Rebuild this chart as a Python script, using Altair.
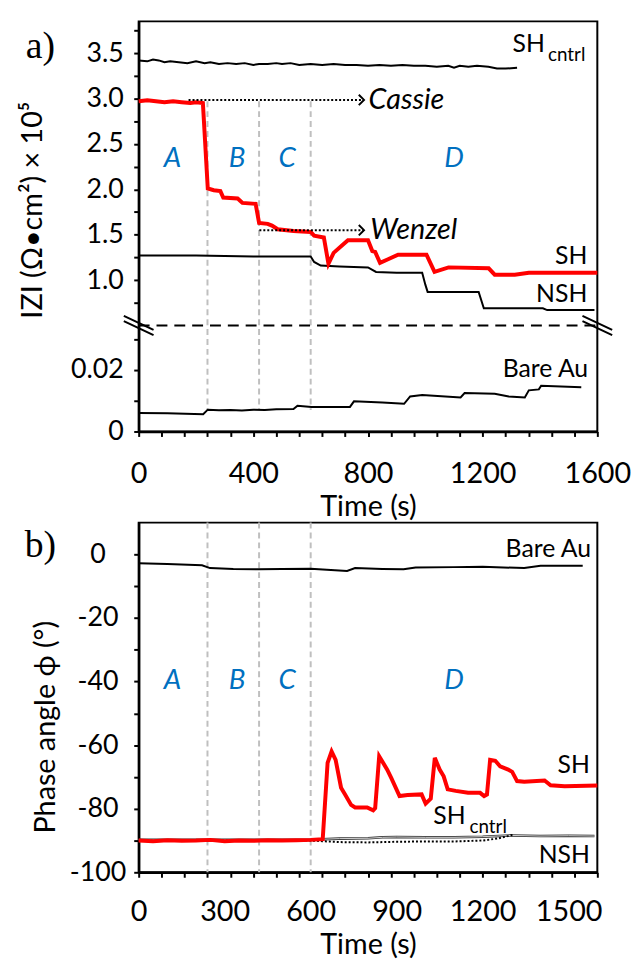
import altair as alt
import pandas as pd

FONT = "Lato"
BLUE = "#0070C0"
RED = "#FF0000"
GRAY = "#BFBFBF"

# ---------------- Panel a data (|Z|, x10^5) ----------------
shc_a_t = [0, 30, 50, 70, 90, 110, 140, 170, 200, 230, 250, 280, 310, 340, 370, 400, 420, 450, 480, 500,
           530, 560, 600, 640, 680, 720, 760, 800, 840, 880, 920, 960, 1000, 1040, 1080, 1100, 1120, 1150,
           1180, 1220, 1250, 1280, 1320]
shc_a_v = [3.42, 3.41, 3.43, 3.42, 3.40, 3.41, 3.40, 3.39, 3.41, 3.39, 3.40, 3.38, 3.39, 3.38, 3.39, 3.37,
           3.38, 3.38, 3.39, 3.38, 3.39, 3.37, 3.38, 3.37, 3.38, 3.37, 3.37, 3.36, 3.37, 3.36, 3.37, 3.36,
           3.36, 3.35, 3.36, 3.34, 3.36, 3.35, 3.36, 3.35, 3.33, 3.33, 3.34]

sh_a_t = [0, 30, 60, 90, 120, 150, 180, 200, 224, 241, 262, 285, 295, 345, 352, 362, 408, 420, 450, 465,
          485, 540, 600, 612, 646, 662, 680, 709, 730, 800, 815, 825, 842, 870, 905, 1004, 1032, 1081,
          1221, 1242, 1312, 1361, 1600]
sh_a_v = [2.97, 2.98, 2.97, 2.96, 2.97, 2.96, 2.95, 2.96, 2.95, 2.01, 1.99, 1.98, 1.91, 1.90, 1.88, 1.85,
          1.84, 1.63, 1.62, 1.60, 1.56, 1.54, 1.53, 1.49, 1.47, 1.18, 1.30, 1.38, 1.44, 1.44, 1.32, 1.31,
          1.19, 1.23, 1.28, 1.28, 1.09, 1.14, 1.13, 1.06, 1.06, 1.08, 1.08]

nsh_a_t = [0, 200, 400, 600, 612, 635, 700, 800, 828, 900, 989, 1000, 1008, 1100, 1186, 1204, 1300, 1410,
           1425, 1590]
nsh_a_v = [1.27, 1.27, 1.26, 1.26, 1.20, 1.16, 1.15, 1.14, 1.09, 1.08, 1.08, 0.95, 0.87, 0.87, 0.87, 0.69,
           0.69, 0.69, 0.67, 0.67]

au_a_t = [0, 100, 225, 241, 280, 320, 360, 400, 440, 480, 540, 554, 603, 737, 751, 850, 926, 947, 989,
          1123, 1137, 1242, 1291, 1347, 1361, 1396, 1404, 1544]
au_a_v = [0.0060, 0.0059, 0.0056, 0.0071, 0.0069, 0.0070, 0.0068, 0.0071, 0.0070, 0.0072, 0.0073, 0.0084,
          0.0080, 0.0080, 0.0098, 0.0094, 0.0090, 0.0114, 0.0119, 0.0111, 0.0125, 0.0123, 0.0114, 0.0111,
          0.0134, 0.0137, 0.0149, 0.0144]

# ---------------- Panel b data (phase angle, deg) ----------------
sh_b_t = [0, 50, 100, 150, 200, 250, 300, 350, 400, 450, 500, 550, 600, 642, 659, 673, 687, 706, 720, 741,
          755, 797, 818, 825, 839, 867, 881, 910, 938, 987, 1001, 1019, 1033, 1050, 1064, 1078, 1106, 1149,
          1191, 1205, 1215, 1226, 1244, 1261, 1289, 1303, 1320, 1345, 1416, 1437, 1486, 1600]
sh_b_v = [-90.0, -90.2, -89.9, -90.1, -90.0, -89.8, -90.2, -90.0, -90.1, -89.9, -90.0, -89.9, -89.8, -89.6,
          -65.6, -62.0, -64.6, -73.4, -75.5, -78.8, -79.6, -79.6, -80.5, -79.8, -63.5, -67.7, -70.3, -76.0,
          -75.7, -75.5, -78.4, -76.8, -64.0, -67.7, -69.8, -73.9, -74.4, -75.0, -75.0, -76.0, -75.5, -64.6,
          -64.9, -66.7, -67.7, -68.4, -71.3, -71.5, -71.1, -72.6, -72.9, -72.7]

au_b_t = [0, 100, 221, 249, 330, 418, 500, 600, 727, 755, 850, 924, 966, 1100, 1200, 1345, 1402, 1549]
au_b_v = [-2.8, -3.0, -3.4, -4.3, -4.6, -4.7, -4.6, -4.5, -5.2, -4.3, -4.6, -4.7, -4.1, -4.0, -3.9, -4.3,
          -3.6, -3.6]

shc_b_t = [0, 100, 200, 300, 400, 500, 600, 640, 700, 800, 900, 1000, 1100, 1200, 1250, 1280, 1300, 1310]
shc_b_v = [-90.0, -90.1, -89.9, -90.0, -90.1, -90.0, -90.0, -90.2, -90.5, -90.6, -90.4, -90.3, -90.3,
           -90.0, -89.4, -88.8, -88.3, -88.6]

nsh_b_t = [0, 300, 600, 640, 700, 800, 850, 900, 1000, 1100, 1200, 1300, 1400, 1500, 1590]
nsh_b_v = [-89.8, -89.8, -89.8, -89.6, -89.4, -89.3, -89.0, -88.9, -89.0, -89.0, -88.8, -88.4, -88.6,
           -88.5, -88.6]

# stage boundaries (s) and stage labels
stage_t = [240, 420, 600]
stage_labels = ["A", "B", "C", "D"]
stage_label_t = [118, 343, 518, 1100]
stage_label_a_v = 2.33
stage_label_b_v = -40

# ---------------- geometry ----------------
W = 463
HA = 414
HB = 353
BREAK_PX = 307
BREAK_V = 0.2  # any value inside the axis gap

xa_scale = alt.Scale(domain=[0, 1600], nice=False, zero=False)
ya_scale = alt.Scale(domain=[0, 0.0345, 0.5, 3.85], range=[HA, BREAK_PX, BREAK_PX, 0], nice=False, zero=False)
xb_scale = alt.Scale(domain=[0, 1600], nice=False, zero=False)
yb_scale = alt.Scale(domain=[-100, 10], nice=False, zero=False)

xa_axis = alt.Axis(values=list(range(0, 1601, 80)),
                   labelExpr="datum.value % 400 == 0 ? '' + datum.value : ''",
                   title="Time (s)", labelFontSize=29, labelBaseline="alphabetic", labelPadding=46,
                   titleFontSize=29, titleBaseline="alphabetic", titleY=85)
ya_vals = [0, 0.01, 0.02, 0.03, 0.75, 1.0, 1.25, 1.5, 1.75, 2.0, 2.25, 2.5, 2.75, 3.0, 3.25, 3.5, 3.75]
ya_axis = alt.Axis(values=ya_vals,
                   labelExpr="datum.value == 0 ? '0' : datum.value == 0.02 ? '0.02' : "
                             "(datum.value >= 1 && (datum.value * 2) % 1 == 0) ? format(datum.value, '.1f') : ''",
                   title="IZI (Ω•cm²) × 10⁵", labelFontSize=27, labelPadding=10.5, labelAlign="right",
                   titleFontSize=29, titleAngle=270, titleAlign="center", titleBaseline="alphabetic",
                   titleX=-98, titleY=190)

xb_vals = sorted(set(list(range(0, 1601, 80)) + list(range(0, 1501, 300))))
xb_axis = alt.Axis(values=xb_vals,
                   labelExpr="datum.value % 300 == 0 ? '' + datum.value : ''",
                   tickOpacity={"condition": {"test": "datum.value % 80 == 0", "value": 1}, "value": 0},
                   title="Time (s)", labelFontSize=29, labelBaseline="alphabetic", labelPadding=44,
                   titleFontSize=29, titleBaseline="alphabetic", titleY=82)
yb_axis = alt.Axis(values=list(range(-100, 1, 10)),
                   labelExpr="datum.value % 20 == 0 ? '' + datum.value : ''",
                   title="Phase angle ϕ (°)", labelFontSize=27, labelPadding=36.5, labelAlign="center",
                   titleFontSize=29, titleAngle=270, titleAlign="center", titleBaseline="alphabetic",
                   titleX=-85, titleY=206)


def XA(f="t"):
    return alt.X(f"{f}:Q", scale=xa_scale, axis=xa_axis)


def YA(f="v"):
    return alt.Y(f"{f}:Q", scale=ya_scale, axis=ya_axis)


def XB(f="t"):
    return alt.X(f"{f}:Q", scale=xb_scale, axis=xb_axis)


def YB(f="v"):
    return alt.Y(f"{f}:Q", scale=yb_scale, axis=yb_axis)


def df(t, v):
    return pd.DataFrame({"t": t, "v": v})


def line(t, v, X, Y, **kw):
    return alt.Chart(df(t, v)).mark_line(**kw).encode(x=X(), y=Y())


def label(texts, ts, vs, X, Y, color="black", **kw):
    d = pd.DataFrame({"t": ts, "v": vs, "label": texts})
    return alt.Chart(d).mark_text(font=FONT, color=color, baseline="middle", **kw).encode(
        x=X(), y=Y(), text="label:N")


# ---------------- Panel a ----------------
vlines_a = alt.Chart(pd.DataFrame({"t": stage_t, "v": [2.97] * 3, "v2": [0.007] * 3})).mark_rule(
    color=GRAY, strokeWidth=2, strokeDash=[6, 4]).encode(x=XA(), y=YA(), y2=alt.Y2("v2:Q"))
break_line = alt.Chart(pd.DataFrame({"t": [0], "t2": [1600], "v": [BREAK_V]})).mark_rule(
    color="black", strokeWidth=2, strokeDash=[11, 7]).encode(x=XA(), x2=alt.X2("t2:Q"), y=YA())
break_marks = alt.Chart(pd.DataFrame({"t": [0, 1600], "v": [BREAK_V, BREAK_V]})).mark_point(
    shape="M -1 -0.65 L 1 0.3 M -1 -0.3 L 1 0.65", size=900, filled=False, color="black",
    strokeWidth=2, opacity=1).encode(x=XA(), y=YA())

arrows = alt.Chart(pd.DataFrame({"t": [174, 421], "t2": [784, 784], "v": [2.985, 1.55]})).mark_rule(
    color="black", strokeWidth=2, strokeDash=[2, 2]).encode(x=XA(), x2=alt.X2("t2:Q"), y=YA())
heads = alt.Chart(pd.DataFrame({"t": [786, 786], "v": [2.985, 1.55]})).mark_point(
    shape="M -1 -1 L 0 0 L -1 1", size=110, filled=False, color="black", strokeWidth=2,
    opacity=1).encode(x=XA(), y=YA())

panel_a = alt.layer(
    vlines_a,
    break_line,
    line(shc_a_t, shc_a_v, XA, YA, color="black", strokeWidth=2),
    line(nsh_a_t, nsh_a_v, XA, YA, color="black", strokeWidth=2),
    line(au_a_t, au_a_v, XA, YA, color="black", strokeWidth=2),
    line(sh_a_t, sh_a_v, XA, YA, color=RED, strokeWidth=4),
    arrows,
    heads,
    break_marks,
    label(["Cassie", "Wenzel"], [802, 808], [2.985, 1.55], XA, YA, fontSize=29, fontStyle="italic", align="left"),
    label(stage_labels, stage_label_t, [stage_label_a_v] * 4, XA, YA, color=BLUE, fontSize=28,
          fontStyle="italic", align="center"),
    label(["SH", "NSH"], [1565, 1565], [1.26, 0.845], XA, YA, fontSize=25, align="right"),
    label(["Bare Au"], [1568], [0.0203], XA, YA, fontSize=25, align="right"),
    label(["SH"], [1304], [3.6], XA, YA, fontSize=25, align="left"),
    label(["cntrl"], [1428], [3.48], XA, YA, fontSize=19, align="left"),
    alt.Chart(pd.DataFrame({"label": ["a)"]})).mark_text(
        font="Liberation Serif", fontSize=38, align="left", baseline="alphabetic", color="black").encode(
        x=alt.value(-114), y=alt.value(37), text="label:N"),
).properties(width=W, height=HA)

# ---------------- Panel b ----------------
vlines_b = alt.Chart(pd.DataFrame({"t": stage_t, "v": [10] * 3, "v2": [-100] * 3})).mark_rule(
    color=GRAY, strokeWidth=2, strokeDash=[6, 4]).encode(x=XB(), y=YB(), y2=alt.Y2("v2:Q"))

panel_b = alt.layer(
    vlines_b,
    line(nsh_b_t, nsh_b_v, XB, YB, color="#333333", strokeWidth=2.6),
    line(nsh_b_t, nsh_b_v, XB, YB, color="#d0d0d0", strokeWidth=1),
    line(shc_b_t, shc_b_v, XB, YB, color="black", strokeWidth=2, strokeDash=[2, 2]),
    line(sh_b_t, sh_b_v, XB, YB, color=RED, strokeWidth=4),
    line(au_b_t, au_b_v, XB, YB, color="black", strokeWidth=2),
    label(stage_labels, stage_label_t, [stage_label_b_v] * 4, XB, YB, color=BLUE, fontSize=28,
          fontStyle="italic", align="center"),
    label(["Bare Au", "SH", "NSH"], [1578, 1574, 1574], [1.6, -66.3, -94.7], XB, YB, fontSize=25, align="right"),
    label(["SH"], [1028], [-82.2], XB, YB, fontSize=25, align="left"),
    label(["cntrl"], [1154], [-85.8], XB, YB, fontSize=19, align="left"),
    alt.Chart(pd.DataFrame({"label": ["b)"]})).mark_text(
        font="Liberation Serif", fontSize=38, align="left", baseline="alphabetic", color="black").encode(
        x=alt.value(-115), y=alt.value(35), text="label:N"),
).properties(width=W, height=HB)

chart = alt.vconcat(panel_a, panel_b, spacing=-6).resolve_scale(
    x="independent", y="independent"
).properties(
    padding={"left": 18, "top": 11, "right": 0, "bottom": 0},
    background="white",
).configure_view(
    stroke="black", strokeWidth=2
).configure_axis(
    domainColor="black", domainWidth=2.5, tickColor="black", tickWidth=2, tickSize=5,
    labelColor="black", titleColor="black", labelFont=FONT, titleFont=FONT, titleFontWeight="normal",
    grid=False, labelFlush=False, labelOverlap=False
)

chart.save("out.html", embed_options={"renderer": "svg", "actions": False})
